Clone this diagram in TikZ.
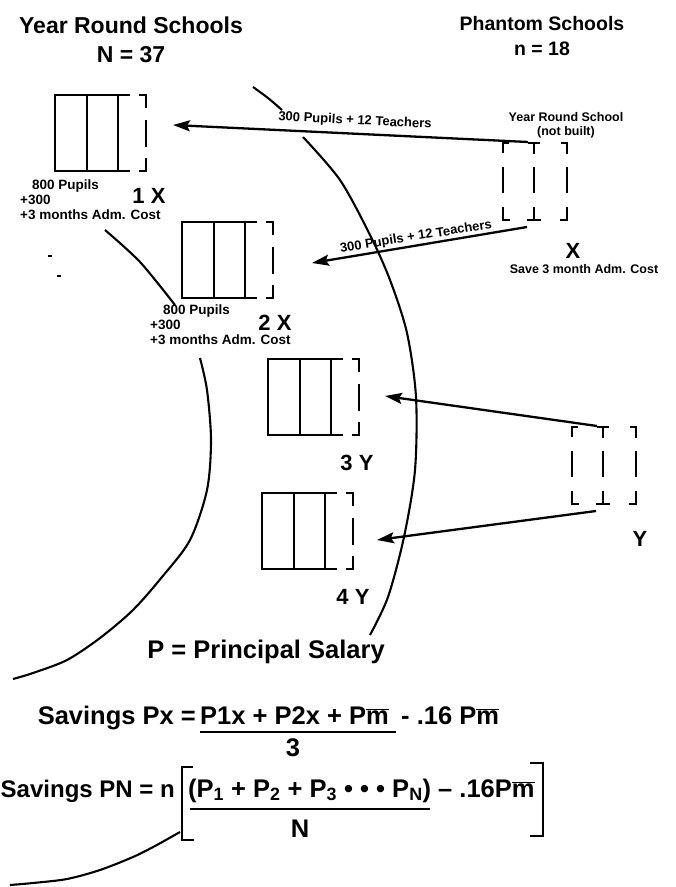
\documentclass[tikz,border=0pt]{standalone}
\usepackage{fontspec}
\setmainfont{Liberation Sans}
\usetikzlibrary{arrows.meta}
\newcommand\mbar{\ensuremath{\overline{\mbox{m}}}}
\begin{document}
\begin{tikzpicture}[x=1pt,y=-1pt,
  every node/.style={inner sep=0pt, font=\bfseries},
  title/.style={font=\fontsize{23}{26}\selectfont\bfseries, anchor=base},
  title2/.style={font=\fontsize{19.5}{22}\selectfont\bfseries, anchor=base},
  big/.style={font=\fontsize{22}{24}\selectfont\bfseries, anchor=base},
  note/.style={font=\fontsize{13.5}{15}\selectfont\bfseries, anchor=base west},
  tag/.style={font=\fontsize{12.5}{14}\selectfont\bfseries, anchor=base},
  lab/.style={font=\fontsize{13}{14}\selectfont\bfseries},
  formula/.style={font=\fontsize{25.5}{28}\selectfont\bfseries},
  wall/.style={line width=2.6pt},
  ghost/.style={line width=2.2pt},
  curve/.style={line width=2.1pt},
  bar/.style={line width=2.2pt},
  arr/.style={line width=2.3pt, -{Stealth[length=17pt,width=11pt,inset=3pt]}},
  yrschool/.pic={
    \draw[wall] (75,0) -- (0,0) -- (0,76) -- (75,76);
    \draw[wall] (32,0) -- (32,76) (63,0) -- (63,76);
    \draw[ghost] (84,0) -- (91,0) -- (91,13) (91,25) -- (91,52) (91,63) -- (91,76) -- (84,76);
  },
  phantom/.pic={
    \draw[ghost] (0,10) -- (0,0) -- (6,0)  (25,0) -- (37,0)  (31,0) -- (31,11)  (58,0) -- (64,0) -- (64,11)
      (0,24) -- (0,50)  (31,24) -- (31,50)  (64,24) -- (64,50)
      (0,64) -- (0,77) -- (7,77)  (31,64) -- (31,77)  (24,77) -- (38,77)  (64,64) -- (64,77) -- (57,77);
    \coordinate (-top) at (25,-1);
    \coordinate (-bot) at (24,84);
  }
]
\path[use as bounding box, fill=white] (0,0) rectangle (676,887);

% titles
\node[title] (ttl1) at (131,33) {Year Round Schools};
\node[title] (ttl1n) at (131,62) {N = 37};
\node[title2] (ttl2) at (542,30) {Phantom Schools};
\node[title2] (ttl2n) at (542,55) {n = 18};

% arcs
\draw[curve] plot[smooth] coordinates {(253,87) (268,98) (282,110)};
\draw[curve] plot[smooth] coordinates {(303,137) (340,180) (370,235) (390,280) (407,333) (416,397) (415,470) (404,537) (388,597) (370,635)};
\draw[curve] plot[smooth] coordinates {(105,230) (140,262) (175,305)};
\draw[curve] plot[smooth] coordinates {(200,358) (207,390) (211,440) (207,490) (190,540) (162,577) (133,610) (100,638) (67,660) (33,673) (13,679)};
\draw[curve] plot[smooth] coordinates {(180,832) (155,846) (133,857) (100,870) (67,879) (33,883) (10,885)};
\draw[line width=1.8pt] (48,256) -- (52,256) (57,276) -- (61,276);

% school boxes
\pic (s1) at (55,95) {yrschool};
\pic (s2) at (182,222) {yrschool};
\pic (s3) at (268,359) {yrschool};
\pic (s4) at (262,493) {yrschool};

% phantom schools
\pic (phx) at (503,143) {phantom};
\pic (phy) at (572,427) {phantom};

% arrow targets
\coordinate (t1) at (173,125);
\coordinate (t2) at (312,263);
\coordinate (t3) at (385,396);
\coordinate (t4) at (377,540);
\draw[arr] (phx-top) -- (t1);
\draw[arr] (phx-bot) -- (t2);
\draw[arr] (phy-top) -- (t3);
\draw[arr] (phy-bot) -- (t4);

\node[lab, rotate=-3] (l1) at (355,121) {300 Pupils + 12 Teachers};
\node[lab, rotate=9] (l2) at (416,237) {300 Pupils + 12 Teachers};

% notes
\node[note] (n1a) at (32,189) {800 Pupils};
\node[note] (n1b) at (20,204) {+300};
\node[note] (n1c) at (20,219) {+3 months Adm. Cost};
\node[note] (n2a) at (163,314) {800 Pupils};
\node[note] (n2b) at (150,329) {+300};
\node[note] (n2c) at (150,344) {+3 months Adm. Cost};

\node[big] (k1) at (149,203) {1 X};
\node[big] (k2) at (275,330) {2 X};
\node[big] (k3) at (357,470) {3 Y};
\node[big] (k4) at (353,604) {4 Y};
\node[big] (kx) at (573,258) {X};
\node[big] (ky) at (640,546) {Y};

\node[tag] (yr) at (566,121) {Year Round School};
\node[tag] (nb) at (566,135) {(not built)};
\node[tag] (sv) at (584,273) {Save 3 month Adm. Cost};

\node[formula, anchor=base] (ps) at (266,658) {P = Principal Salary};

% formula 1
\node[formula, anchor=base east] (pxa) at (196,724) {Savings Px =};
\node[formula, anchor=base west] (pxb) at (200,724) {P1x + P2x + P\mbar};
\draw[bar] (200,732) -- (396,732);
\node[formula, anchor=base] (pxc) at (293,756) {3};
\node[formula, anchor=base west] (pxd) at (401,724) {- .16 P\mbar};

% formula 2
\node[formula, anchor=base east, font=\fontsize{24}{28}\selectfont\bfseries] (pna) at (175,797) {Savings PN = n};
\draw[bar] (193,767) -- (182,767) -- (182,840) -- (194,840);
\node[formula, anchor=base west] (pnb) at (188,797) {(P\textsubscript{1} + P\textsubscript{2} + P\textsubscript{3} \textbullet\ \textbullet\ \textbullet\ P\textsubscript{N})};
\draw[bar] (190,809) -- (430,809);
\node[formula, anchor=base] (pnc) at (300,837) {N};
\node[formula, anchor=base west] (pnd) at (438,797) {-- .16P\mbar};
\draw[bar] (530,763) -- (543,763) -- (543,836) -- (530,836);
\end{tikzpicture}
\end{document}
